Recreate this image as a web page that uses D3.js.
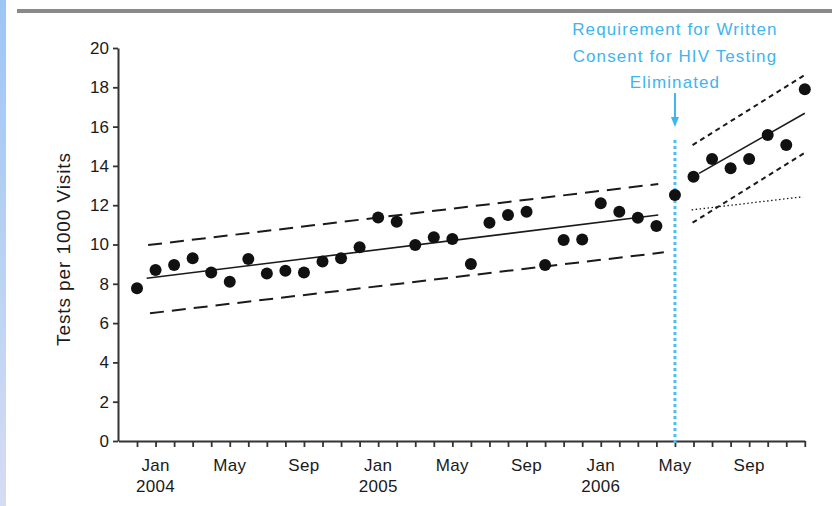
<!DOCTYPE html>
<html><head><meta charset="utf-8">
<script src="https://cdn.jsdelivr.net/npm/d3@7"></script>
<style>
html,body{margin:0;padding:0;background:#fff;}
svg{display:block;font-family:"Liberation Sans",Arial,Helvetica,sans-serif;}
</style></head>
<body><svg id="c" width="832" height="506"></svg>
<script>
// month index 0 = Dec 2003 ... 36 = Dec 2006
const preMonths = d3.range(0, 29);
const preValues = [7.77, 8.70, 8.96, 9.30, 8.57, 8.11, 9.26, 8.53, 8.67, 8.57, 9.13, 9.30, 9.86, 11.38, 11.16, 9.97, 10.37, 10.28, 9.01, 11.11, 11.50, 11.67, 8.96, 10.23, 10.26, 12.10, 11.67, 11.36, 10.94];
const postMonths = d3.range(29, 37);
const postValues = [12.52, 13.45, 14.35, 13.88, 14.35, 15.57, 15.06, 17.90];

// fitted lines: [month index, value] endpoints
const preTrend = [[0.52, 8.28], [28.1, 11.5]];
const preUpper = [[0.6, 9.97], [28.1, 13.08]];
const preLower = [[0.7, 6.5], [28.4, 9.6]];
const postTrend = [[30.3, 13.62], [36, 16.68]];
const postUpper = [[29.95, 15.06], [36, 18.63]];
const postLower = [[29.95, 11.11], [36, 14.67]];
const counterfactual = [[29.9, 11.76], [35.9, 12.43]];

const xTickLabels = [[1, "Jan", "2004"], [5, "May", ""], [9, "Sep", ""], [13, "Jan", "2005"], [17, "May", ""], [21, "Sep", ""], [25, "Jan", "2006"], [29, "May", ""], [33, "Sep", ""]];
const yTicks = d3.range(0, 21, 2);
const interventionMonth = 29;
const annotation = ["Requirement for Written", "Consent for HIV Testing", "Eliminated"];
const yTitle = "Tests per 1000 Visits";

const svg = d3.select("#c");
const defs = svg.append("defs");
const g0 = defs.append("linearGradient").attr("id", "strip").attr("x1", 0).attr("y1", 0).attr("x2", 0).attr("y2", 1);
g0.append("stop").attr("offset", "0%").attr("stop-color", "#9cc6f6");
g0.append("stop").attr("offset", "100%").attr("stop-color", "#d6dcf2");
svg.append("rect").attr("x", 0).attr("y", 0).attr("width", 6).attr("height", 506).attr("fill", "url(#strip)");
svg.append("rect").attr("x", 17).attr("y", 9).attr("width", 815).attr("height", 4).attr("fill", "#8a8a8a");

const x = d3.scaleLinear().domain([-1, 36]).range([118.45, 804.8]);
const y = d3.scaleLinear().domain([0, 20]).range([441, 48]);

const ink = "#1a1a1a";
// axes
const yAxis = svg.append("g").attr("transform", "translate(118,0)")
  .call(d3.axisLeft(y).tickValues(yTicks).tickSize(5).tickSizeOuter(0).tickPadding(4));
yAxis.selectAll("text").attr("font-size", 17).attr("fill", ink).attr("font-family", "Liberation Sans, Arial, sans-serif");
const xAxis = svg.append("g").attr("transform", "translate(0,441)")
  .call(d3.axisBottom(x).tickValues(d3.range(0, 37)).tickSize(6).tickSizeOuter(0).tickFormat(""));
[yAxis, xAxis].forEach(a => {
  a.select(".domain").attr("stroke", "#333").attr("stroke-width", 2);
  a.selectAll(".tick line").attr("stroke", "#333").attr("stroke-width", 1.8);
});

const xl = svg.append("g").attr("font-size", 17).attr("fill", ink).attr("text-anchor", "middle").attr("letter-spacing", 0.3);
xTickLabels.forEach(([m, a, b]) => {
  xl.append("text").attr("x", x(m)).attr("y", 471).text(a);
  if (b) xl.append("text").attr("x", x(m)).attr("y", 492).text(b);
});

svg.append("text").attr("transform", "translate(70,249) rotate(-90)").attr("text-anchor", "middle")
  .attr("font-size", 19).attr("letter-spacing", 0.9).attr("fill", ink).text(yTitle);

const line = d3.line().x(d => x(d[0])).y(d => y(d[1]));
const drawLine = (pts, dash, w) => svg.append("path").attr("d", line(pts)).attr("fill", "none")
  .attr("stroke", ink).attr("stroke-width", w).attr("stroke-dasharray", dash);
drawLine(preTrend, null, 1.6);
drawLine(preUpper, "14 8", 2);
drawLine(preLower, "14 8", 2);
drawLine(postTrend, null, 1.6);
drawLine(postUpper, "5 4", 2);
drawLine(postLower, "5 4", 2);
drawLine(counterfactual, "1.5 2.5", 1.3);

// intervention line
const blue = "#3fb4ee";
svg.append("line").attr("x1", x(interventionMonth)).attr("x2", x(interventionMonth))
  .attr("y1", 140).attr("y2", 444).attr("stroke", "#4cc0f2").attr("stroke-width", 3).attr("stroke-dasharray", "3 3");
svg.append("line").attr("x1", x(interventionMonth)).attr("x2", x(interventionMonth))
  .attr("y1", 93).attr("y2", 119).attr("stroke", blue).attr("stroke-width", 2);
svg.append("path").attr("d", `M${x(interventionMonth)-4},117 L${x(interventionMonth)+4},117 L${x(interventionMonth)},127 Z`).attr("fill", blue);
const at = svg.append("g").attr("font-size", 17).attr("fill", blue).attr("text-anchor", "middle").attr("letter-spacing", 1.1);
annotation.forEach((t, i) => at.append("text").attr("x", x(interventionMonth)).attr("y", 35 + i * 26.5).text(t));

// points
const pts = preMonths.map((m, i) => [m, preValues[i]]).concat(postMonths.map((m, i) => [m, postValues[i]]));
svg.append("g").selectAll("circle").data(pts).join("circle")
  .attr("cx", d => x(d[0])).attr("cy", d => y(d[1])).attr("r", 6).attr("fill", "#111");
</script></body></html>
